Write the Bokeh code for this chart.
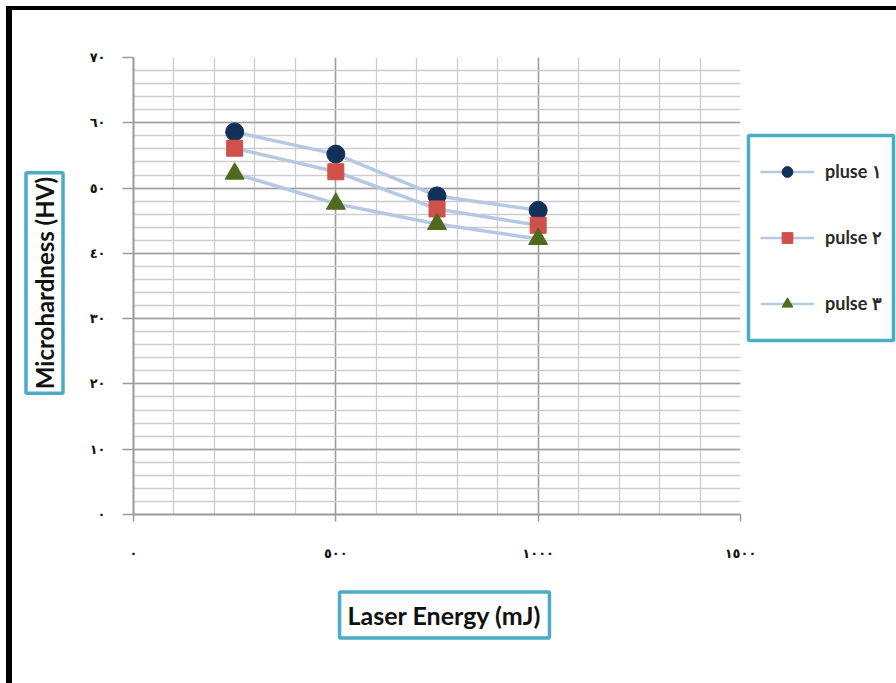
import numpy as np
from bokeh.plotting import figure
from bokeh.models import Range1d, FixedTicker, Legend, LegendItem, Label, BoxAnnotation
from bokeh.embed import file_html
from bokeh.resources import INLINE

# ---- data -------------------------------------------------------------
laser_energy = [250, 500, 750, 1000]          # mJ
pulse_1 = [58.6, 55.2, 48.8, 46.6]             # HV
pulse_2 = [56.1, 52.5, 46.8, 44.3]
pulse_3 = [52.2, 47.6, 44.5, 42.2]
series_names = ["pluse \u0661", "pulse \u0662", "pulse \u0663"]

x_ticks = [0, 500, 1000, 1500]
x_tick_labels = ["\u0660", "\u0665\u0660\u0660", "\u0661\u0660\u0660\u0660", "\u0661\u0665\u0660\u0660"]
y_ticks = [0, 10, 20, 30, 40, 50, 60, 70]
y_tick_labels = ["\u0660", "\u0661\u0660", "\u0662\u0660", "\u0663\u0660",
                 "\u0664\u0660", "\u0665\u0660", "\u0666\u0660", "\u0667\u0660"]

# ---- layout ------------------------------------------------------------
W, H = 896, 683
L, R, T, B = 133, 156, 57, 169
TEAL = "#4bacc6"

p = figure(width=W, height=H, output_backend="svg", toolbar_location=None,
           x_range=Range1d(0, 1500), y_range=Range1d(0, 70),
           min_border_left=L, min_border_right=R, min_border_top=T, min_border_bottom=B)
p.outline_line_color = None
p.background_fill_color = "white"
p.border_fill_color = None
# black rules along the left and top edges of the page
p.styles = {
    "background-color": "white",
    "background-image": "linear-gradient(#000, #000), linear-gradient(#000, #000)",
    "background-size": "6px 677px, 890px 4px",
    "background-position": "6px 6px, 6px 6px",
    "background-repeat": "no-repeat",
}

# axes
xt = FixedTicker(ticks=x_ticks, minor_ticks=list(range(0, 1501, 100)))
yt = FixedTicker(ticks=y_ticks, minor_ticks=list(range(0, 71, 2)))
p.xaxis.ticker = xt
p.yaxis.ticker = yt
p.xaxis.major_label_overrides = dict(zip(x_ticks, x_tick_labels))
p.yaxis.major_label_overrides = dict(zip(y_ticks, y_tick_labels))
for ax in (p.xaxis, p.yaxis):
    ax.axis_line_color = "#9a9a9a"
    ax.axis_line_width = 2
    ax.major_tick_line_color = "#9a9a9a"
    ax.major_tick_line_width = 1.5
    ax.major_tick_in = 0
    ax.minor_tick_line_color = None
    ax.major_label_text_font = "DejaVu Sans"
    ax.major_label_text_font_style = "bold"
    ax.major_label_text_font_size = "13px"
    ax.major_label_text_color = "#111111"
p.xaxis.major_tick_out = 7
p.xaxis.major_label_standoff = 24
p.yaxis.major_tick_out = 11
p.yaxis.major_label_standoff = 17

# grid
p.xgrid.ticker = xt
p.ygrid.ticker = yt
for g in (p.xgrid, p.ygrid):
    g.grid_line_color = "#9e9e9e"
    g.grid_line_width = 1.5
    g.minor_grid_line_color = "#cdcdcd"
    g.minor_grid_line_width = 1.3

# series
line_color = "#b6c9e2"
styles = [
    dict(marker="circle", size=18, color="#12315a"),
    dict(marker="square", size=16, color="#d0504a"),
    dict(marker="triangle", size=19, color="#4e6a1e"),
]
for ys, st in zip([pulse_1, pulse_2, pulse_3], styles):
    p.line(laser_energy, ys, line_color=line_color, line_width=3.5)
    p.scatter(laser_energy, ys, marker=st["marker"], size=st["size"],
              fill_color=st["color"], line_color=st["color"])

# ---- page overlay: framed axis titles and the legend --------------------
# its canvas uses page pixels directly: x = column, y = row from the top
ov = figure(width=W, height=H, output_backend="svg", toolbar_location=None,
            x_axis_type=None, y_axis_type=None, min_border=0,
            x_range=Range1d(0, W), y_range=Range1d(H, 0))
ov.outline_line_color = None
ov.background_fill_color = None
ov.border_fill_color = None
ov.styles = {"position": "absolute", "left": "0px", "top": "0px", "z-index": "2"}

title_style = dict(text_font="Lato", text_font_style="bold", text_color="#111111",
                   text_align="center", text_baseline="middle",
                   border_line_color=TEAL, border_line_width=3.5,
                   background_fill_color="white")
ov.add_layout(Label(x=444, y=614.5, text="Laser Energy (mJ)", text_font_size="25px",
                    padding=8, **title_style))
ov.add_layout(Label(x=44, y=282.5, text="Microhardness (HV)", angle=np.pi / 2,
                    text_font_size="24px", padding=4, **title_style))

ov.add_layout(BoxAnnotation(left=748, right=893, top=135, bottom=340,
                            fill_color="white", fill_alpha=1.0,
                            line_color=TEAL, line_alpha=1.0, line_width=3.5))
# legend keys: one-point proxies with no position, so only their key is shown
nan = np.array([np.nan])
items = []
for name, st in zip(series_names, styles):
    lr = ov.line(nan, nan, line_color=line_color, line_width=2.5)
    sr = ov.scatter(nan, nan, marker=st["marker"], size=st["size"],
                    fill_color=st["color"], line_color=st["color"])
    items.append(LegendItem(label=name, renderers=[lr, sr]))
legend = Legend(items=items, location=(760, H - 316.5), margin=0,
                padding=10, spacing=39, glyph_height=27, glyph_width=54,
                label_height=27, label_standoff=11,
                border_line_color=None, background_fill_alpha=0.0,
                label_text_font="Lato", label_text_font_size="18px",
                label_text_font_style="bold", label_text_color="#2a2a2a")
ov.add_layout(legend)

open("out.html", "w").write(file_html([p, ov], INLINE))
